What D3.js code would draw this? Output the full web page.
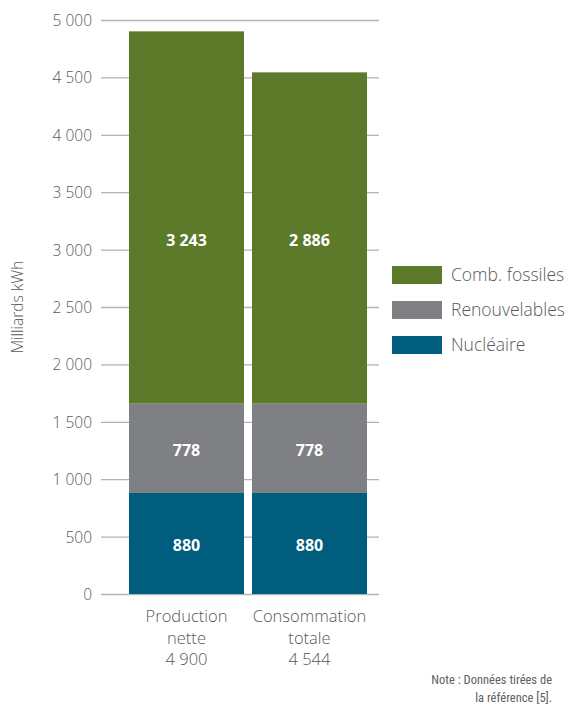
<!DOCTYPE html>
<html>
<head>
<meta charset="utf-8">
<script src="https://cdnjs.cloudflare.com/ajax/libs/d3/7.8.5/d3.min.js"></script>
<style>
  body { margin: 0; background: #fff; }
  svg text { font-family: "Open Sans", "Noto Sans", sans-serif; }
</style>
</head>
<body>
<svg id="chart" width="570" height="706"></svg>
<script>
// categories and series (Milliards kWh)
var categories = ["Production nette", "Consommation totale"];
var catLines = [["Production", "nette", "4 900"], ["Consommation", "totale", "4 544"]];
var seriesNames = ["Nucléaire", "Renouvelables", "Comb. fossiles"];
var nucleaire = [880, 880];
var renouvelables = [778, 778];
var fossiles = [3243, 2886];
var yTicks = [0, 500, 1000, 1500, 2000, 2500, 3000, 3500, 4000, 4500, 5000];
var colors = ["#005d7d", "#7f8084", "#5d792a"];

var svg = d3.select("#chart");

var y = d3.scaleLinear()
    .domain([0, 5000])
    .range([594, 20]);

var x = d3.scaleBand()
    .domain(categories)
    .range([129, 367])
    .paddingInner(0.065)
    .paddingOuter(0);

var fmt = function (v) { return d3.format(",")(v).replace(/,/g, " "); };

// grid + tick labels
var yAxis = svg.append("g")
    .attr("transform", "translate(101,0)")
    .call(d3.axisLeft(y).tickValues(yTicks).tickSize(-278).tickPadding(9)
        .tickFormat(function (d) { return fmt(d); }));
yAxis.select(".domain").remove();
yAxis.selectAll(".tick line").attr("stroke", "#b3b3b6").attr("stroke-width", 1.3);
yAxis.selectAll(".tick text")
    .attr("fill", "#58585a")
    .attr("font-size", "15.5px")
    .attr("font-weight", 300)
    .attr("dy", "0.35em");

svg.append("text")
    .attr("transform", "translate(23,307) rotate(-90)")
    .attr("text-anchor", "middle")
    .attr("fill", "#58585a")
    .attr("font-size", "15.5px")
    .attr("font-weight", 300)
    .text("Milliards kWh");

// stacked bars
var rows = categories.map(function (c, i) {
    return { cat: c, "Nucléaire": nucleaire[i], "Renouvelables": renouvelables[i], "Comb. fossiles": fossiles[i] };
});
var stack = d3.stack().keys(seriesNames)(rows);

var layer = svg.append("g").selectAll("g")
    .data(stack)
    .enter().append("g")
    .attr("fill", function (d, i) { return colors[i]; });

layer.selectAll("rect")
    .data(function (d) { return d; })
    .enter().append("rect")
    .attr("x", function (d) { return x(d.data.cat); })
    .attr("width", x.bandwidth())
    .attr("y", function (d) { return y(d[1]); })
    .attr("height", function (d) { return y(d[0]) - y(d[1]); });

// labels sit at a common height per layer (middle of the shortest segment)
layer.selectAll("text")
    .data(function (d) {
        var top = d3.min(d, function (s) { return s[1]; });
        return d.map(function (s) { return { s: s, top: top }; });
    })
    .enter().append("text")
    .attr("x", function (d) { return x(d.s.data.cat) + x.bandwidth() / 2; })
    .attr("y", function (d) { return (y(d.s[0]) + y(d.top)) / 2 + 2; })
    .attr("dy", "0.36em")
    .attr("text-anchor", "middle")
    .attr("fill", "#fff")
    .attr("font-size", "16px")
    .attr("font-weight", 700)
    .text(function (d) { return fmt(d.s[1] - d.s[0]); });

// category labels
categories.forEach(function (c, i) {
    var t = svg.append("text")
        .attr("text-anchor", "middle")
        .attr("fill", "#58585a")
        .attr("font-size", "16.5px")
        .attr("font-weight", 300);
    catLines[i].forEach(function (line, j) {
        t.append("tspan")
            .attr("x", x(c) + x.bandwidth() / 2)
            .attr("y", 622 + j * 21.5)
            .text(line);
    });
});

// legend
var legendOrder = [2, 1, 0];
var legend = svg.append("g").selectAll("g")
    .data(legendOrder)
    .enter().append("g")
    .attr("transform", function (d, i) { return "translate(392," + (266 + i * 35) + ")"; });
legend.append("rect")
    .attr("width", 50)
    .attr("height", 18)
    .attr("fill", function (d) { return colors[d]; });
legend.append("text")
    .attr("x", 59)
    .attr("y", 9)
    .attr("dy", "0.36em")
    .attr("fill", "#58585a")
    .attr("font-size", "17.5px")
    .attr("font-weight", 300)
    .text(function (d) { return seriesNames[d]; });

// note
var note = svg.append("text")
    .attr("text-anchor", "end")
    .attr("fill", "#606062")
    .attr("font-size", "12.5px")
    .style("font-family", "'Liberation Sans Narrow', 'Roboto Condensed', sans-serif")
    .style("font-stretch", "condensed");
note.append("tspan").attr("x", 552).attr("y", 684).text("Note : Données tirées de");
note.append("tspan").attr("x", 552).attr("y", 702).text("la référence [5].");
</script>
</body>
</html>
